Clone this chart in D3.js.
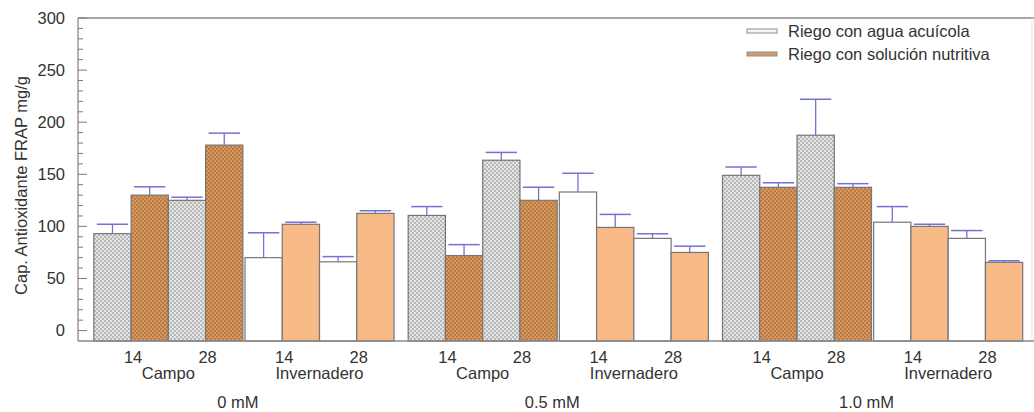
<!DOCTYPE html>
<html>
<head>
<meta charset="utf-8">
<script src="https://cdn.jsdelivr.net/npm/d3@7"></script>
<style>
  body { margin: 0; background: #fff; }
  text { font-family: "Liberation Sans", Arial, sans-serif; fill: #333; }
</style>
</head>
<body>
<div id="chart"></div>
<script>
// categorias
const concentraciones = ["0 mM", "0.5 mM", "1.0 mM"];
const sitios = ["Campo", "Invernadero"];
const dias = ["14", "28"];
const series = ["Riego con agua acuícola", "Riego con solución nutritiva"];

// valores: Campo 14, Campo 28, Invernadero 14, Invernadero 28 por concentracion
const acuicola = [
  [93, 125, 70, 66],
  [110.5, 163.5, 133, 88.5],
  [149, 187.5, 104, 88.5]
];
const solucion = [
  [130, 178, 102, 112.5],
  [72, 125, 99, 75],
  [137.5, 137.5, 100, 65.5]
];
// error (solo hacia arriba)
const errAcuicola = [
  [9, 3, 24, 5],
  [8.5, 7.5, 18, 4.5],
  [8, 34.5, 15, 7.5]
];
const errSolucion = [
  [8, 11.5, 2, 2.5],
  [10.5, 12.5, 12.5, 6],
  [4.5, 3.5, 2, 1.5]
];

const yTicks = [0, 50, 100, 150, 200, 250, 300];
const yMinor = d3.range(0, 301, 10);

const width = 1034, height = 412;
const margin = { top: 18, right: 2, bottom: 71, left: 78 };
const plotRight = width - margin.right;
const plotBottom = height - margin.bottom;
const fs = '16.5px';

const svg = d3.select('#chart')
  .append('svg')
  .attr('width', width)
  .attr('height', height);

// patrones de relleno (barras de campo)
const defs = svg.append('defs');
function makePattern(id, bg, dot) {
  const p = defs.append('pattern')
    .attr('id', id)
    .attr('patternUnits', 'userSpaceOnUse')
    .attr('width', 4).attr('height', 4);
  p.append('rect').attr('width', 4).attr('height', 4).attr('fill', bg);
  p.append('circle').attr('cx', 1).attr('cy', 1).attr('r', 0.9).attr('fill', dot);
  p.append('circle').attr('cx', 3).attr('cy', 3).attr('r', 0.9).attr('fill', dot);
}
makePattern('patGris', '#e4e4e4', '#a4a4a4');
makePattern('patNaranja', '#d8975d', '#a96e3c');

const colorFill = (serie, sitio) => {
  if (sitio === 'Campo') return serie === 0 ? 'url(#patGris)' : 'url(#patNaranja)';
  return serie === 0 ? '#ffffff' : '#f8ba86';
};

// escalas
const xGroup = d3.scaleBand()
  .domain(concentraciones)
  .range([margin.left, plotRight])
  .paddingInner(0.045)
  .paddingOuter(0.04)
  .align(0.63);
const xSitio = d3.scaleBand().domain(sitios).range([0, xGroup.bandwidth()]).paddingInner(0.014);
const xDia = d3.scaleBand().domain(dias).range([0, xSitio.bandwidth()]);
const xSerie = d3.scaleBand().domain([0, 1]).range([0, xDia.bandwidth()]);

const yScale = d3.scaleLinear().domain([-10, 300]).range([plotBottom, margin.top]);

// datos planos
const barras = [];
concentraciones.forEach((c, ci) => {
  sitios.forEach((s, si) => {
    dias.forEach((d, di) => {
      const k = si * 2 + di;
      barras.push({ c, s, d, serie: 0, v: acuicola[ci][k], e: errAcuicola[ci][k] });
      barras.push({ c, s, d, serie: 1, v: solucion[ci][k], e: errSolucion[ci][k] });
    });
  });
});
const xBar = b => xGroup(b.c) + xSitio(b.s) + xDia(b.d) + xSerie(b.serie);

// marco
svg.append('line')
  .attr('x1', margin.left).attr('x2', width)
  .attr('y1', margin.top).attr('y2', margin.top)
  .attr('stroke', '#8a8a8a').attr('stroke-width', 1.3);
svg.append('line')
  .attr('x1', plotRight).attr('x2', plotRight)
  .attr('y1', margin.top).attr('y2', plotBottom)
  .attr('stroke', '#e4e4e4');

// barras
svg.selectAll('.bar')
  .data(barras)
  .enter()
  .append('rect')
  .attr('class', 'bar')
  .attr('x', d => xBar(d))
  .attr('width', xSerie.bandwidth())
  .attr('y', d => yScale(d.v))
  .attr('height', d => yScale(-10) - yScale(d.v))
  .attr('fill', d => colorFill(d.serie, d.s))
  .attr('stroke', '#767676')
  .attr('stroke-width', 1.2);

// barras de error
const errColor = '#7272d4';
const capW = xSerie.bandwidth() * 0.84;
const err = svg.selectAll('.err').data(barras).enter().append('g').attr('class', 'err');
err.append('line')
  .attr('x1', d => xBar(d) + xSerie.bandwidth() / 2)
  .attr('x2', d => xBar(d) + xSerie.bandwidth() / 2)
  .attr('y1', d => yScale(d.v))
  .attr('y2', d => yScale(d.v + d.e))
  .attr('stroke', errColor).attr('stroke-width', 1.3);
err.append('line')
  .attr('x1', d => xBar(d) + xSerie.bandwidth() / 2 - capW / 2)
  .attr('x2', d => xBar(d) + xSerie.bandwidth() / 2 + capW / 2)
  .attr('y1', d => yScale(d.v + d.e))
  .attr('y2', d => yScale(d.v + d.e))
  .attr('stroke', errColor).attr('stroke-width', 1.5);

// eje Y (ticks hacia adentro)
const yAxis = svg.append('g').attr('transform', `translate(${margin.left},0)`);
yAxis.append('line')
  .attr('x1', 0).attr('x2', 0)
  .attr('y1', margin.top).attr('y2', plotBottom)
  .attr('stroke', '#8a8a8a').attr('stroke-width', 1.3);
yAxis.selectAll('.minor')
  .data(yMinor)
  .enter().append('line')
  .attr('x1', 0).attr('x2', d => d % 50 === 0 ? 9 : 5)
  .attr('y1', d => yScale(d)).attr('y2', d => yScale(d))
  .attr('stroke', '#7a7a7a');
yAxis.selectAll('.lbl')
  .data(yTicks)
  .enter().append('text')
  .attr('x', -13)
  .attr('y', d => yScale(d))
  .attr('dy', '0.35em')
  .attr('text-anchor', 'end')
  .style('font-size', fs)
  .text(d => d);

// eje X
svg.append('line')
  .attr('x1', margin.left).attr('x2', width)
  .attr('y1', plotBottom).attr('y2', plotBottom)
  .attr('stroke', '#8a8a8a').attr('stroke-width', 1.3);

concentraciones.forEach(c => {
  sitios.forEach(s => {
    dias.forEach(d => {
      svg.append('text')
        .attr('x', xGroup(c) + xSitio(s) + xDia(d) + xDia.bandwidth() / 2 + 2)
        .attr('y', 363)
        .attr('text-anchor', 'middle')
        .style('font-size', fs)
        .text(d);
    });
    svg.append('text')
      .attr('x', xGroup(c) + xSitio(s) + xSitio.bandwidth() / 2)
      .attr('y', 379)
      .attr('text-anchor', 'middle')
      .style('font-size', fs)
      .text(s);
  });
  svg.append('text')
    .attr('x', xGroup(c) + xGroup.bandwidth() / 2 - 6)
    .attr('y', 408)
    .attr('text-anchor', 'middle')
    .style('font-size', fs)
    .text(c);
});

// titulo eje Y
svg.append('text')
  .attr('transform', `translate(27, ${(margin.top + plotBottom) / 2 + 6}) rotate(-90)`)
  .attr('text-anchor', 'middle')
  .style('font-size', fs)
  .text('Cap. Antioxidante FRAP mg/g');

// leyenda
const legend = svg.append('g').attr('transform', 'translate(747, 31)');
series.forEach((s, i) => {
  legend.append('rect')
    .attr('x', 0).attr('y', i * 23 - 2)
    .attr('width', 30).attr('height', 4)
    .attr('fill', i === 0 ? '#f6f6f6' : '#d49a68')
    .attr('stroke', '#8e8e8e');
  legend.append('text')
    .attr('x', 41).attr('y', i * 23)
    .attr('dy', '0.35em')
    .style('font-size', fs)
    .text(s);
});
</script>
</body>
</html>
